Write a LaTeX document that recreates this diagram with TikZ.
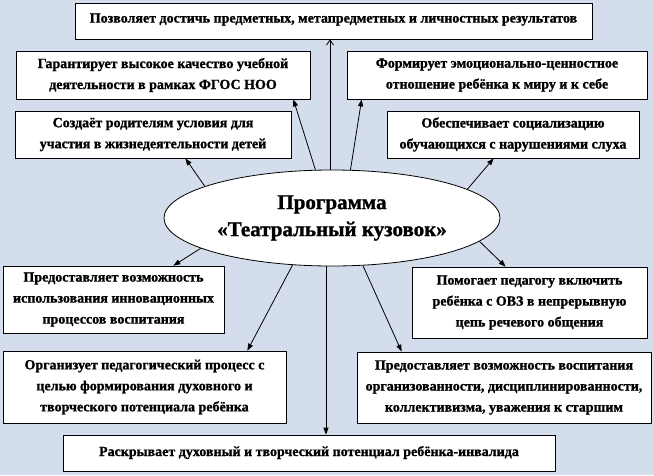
\documentclass[tikz,border=0pt]{standalone}
\usepackage{fontspec}
\setmainfont{Liberation Serif}[BoldFeatures={FakeBold=1.2}]
\usetikzlibrary{arrows.meta,shapes.geometric,calc}
\definecolor{bgc}{RGB}{212,221,236}
\begin{document}
\begin{tikzpicture}[x=1pt,y=-1pt,
  box/.style={draw=black,line width=0.7pt,fill=white,rectangle,inner sep=0pt,align=center,
    font=\bfseries\fontsize{14}{21}\selectfont},
  arr/.style={line width=0.8pt,-{Triangle[length=7pt,width=5pt]}},
  arrtop/.style={line width=0.8pt,-{Straight Barb[length=5pt,width=7pt]}},
  ]
\fill[bgc] (0,0) rectangle (654,475);
\useasboundingbox (0,0) rectangle (654,475);

\node[box,minimum width=517pt,minimum height=36pt,text depth=6pt] (top) at (333.5,21)
  {Позволяет достичь предметных, метапредметных и личностных результатов};
\node[box,minimum width=294pt,minimum height=48pt] (gar) at (163,75)
  {Гарантирует высокое качество учебной\\деятельности в рамках ФГОС НОО};
\node[box,minimum width=300pt,minimum height=48pt] (form) at (497,75)
  {Формирует эмоционально-ценностное\\отношение ребёнка к миру и к себе};
\node[box,minimum width=276pt,minimum height=47pt] (sozd) at (153,134.5)
  {Создаёт родителям условия для\\участия в жизнедеятельности детей};
\node[box,minimum width=252pt,minimum height=47pt] (obesp) at (513,134.5)
  {Обеспечивает социализацию\\обучающихся с нарушениями слуха};
\node[box,minimum width=221pt,minimum height=67pt] (ispolz) at (113.5,299.5)
  {Предоставляет возможность\\использования инновационных\\процессов воспитания};
\node[box,minimum width=235pt,minimum height=71pt] (pomog) at (529.5,302.5)
  {Помогает педагогу включить\\ребёнка с ОВЗ в непрерывную\\цепь речевого общения};
\node[box,minimum width=283pt,minimum height=72pt] (organ) at (144.5,387)
  {Организует педагогический процесс с\\целью формирования духовного и\\творческого потенциала ребёнка};
\node[box,minimum width=294pt,minimum height=71pt] (vospit) at (504,387.5)
  {Предоставляет возможность воспитания\\организованности, дисциплинированности,\\коллективизма, уважения к старшим};
\node[box,minimum width=492pt,minimum height=36pt,text depth=4pt] (bot) at (309,453)
  {Раскрывает духовный и творческий потенциал ребёнка-инвалида};

\node[draw=black,line width=0.8pt,ellipse,fill=white,minimum width=336pt,minimum height=96pt,
  inner sep=0pt,align=center,font=\bfseries\fontsize{21}{27}\selectfont] (ell) at (332,218)
  {Программа\\«Театральный кузовок»};

\draw[arrtop] ([xshift=-2pt]ell.north) -- ([xshift=-2pt]ell.north |- top.south);
\draw[arr] (ell.109) -- ([xshift=-17pt]gar.south east);
\draw[arr] (ell.69) -- ([xshift=15pt]form.south west);
\draw[arr] (ell.166) -- ([xshift=-106pt]sozd.south east);
\draw[arr] (ell.12.7) -- ([xshift=107pt]obesp.south west);
\draw[arr] (ell.193.4) -- ([xshift=-51pt]ispolz.north east);
\draw[arr] (ell.351.7) -- ([xshift=94pt]pomog.north west);
\draw[arr] (ell.230.8) -- ([xshift=-39pt]organ.north east);
\draw[arr] (ell.303.7) -- ([xshift=45pt]vospit.north west);
\draw[arr] ([xshift=-6pt]ell.south) -- ([xshift=-6pt]ell.south |- bot.north);
\end{tikzpicture}
\end{document}
